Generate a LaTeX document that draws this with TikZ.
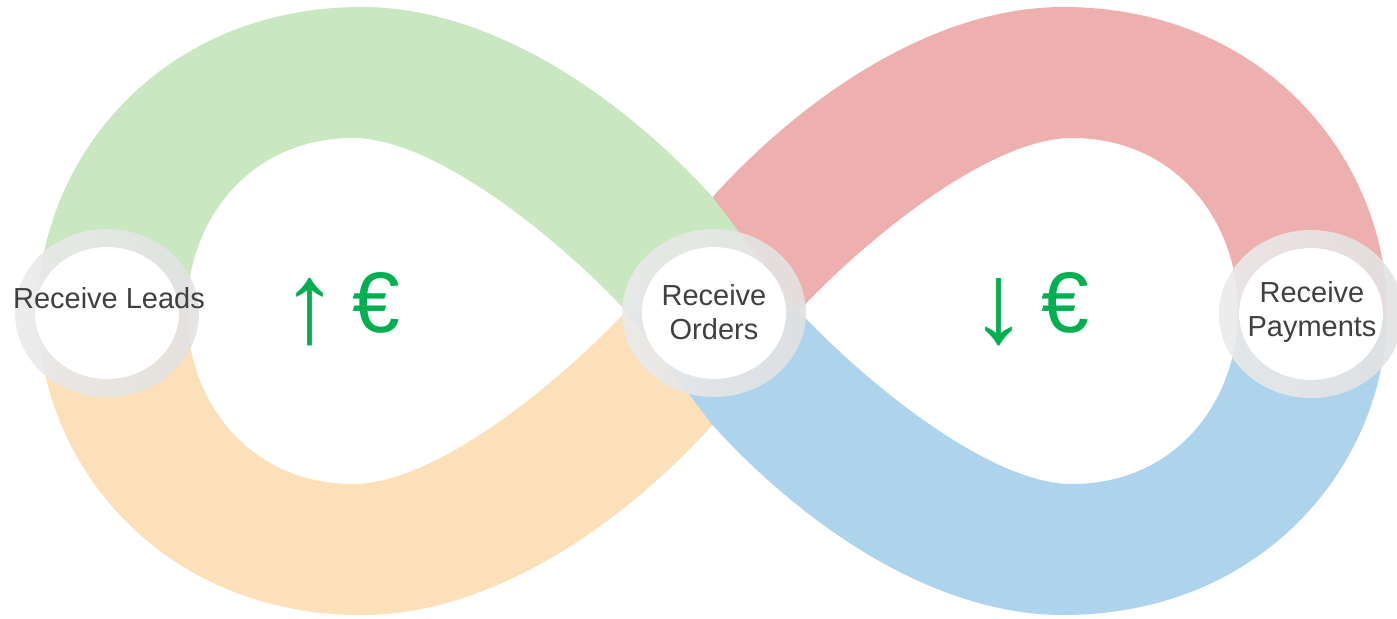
\documentclass[tikz,border=0pt]{standalone}
\usepackage{fontspec}
\setmainfont{Liberation Sans}
\usetikzlibrary{positioning, calc}

\definecolor{leadgreen}{RGB}{201,231,192}
\definecolor{leadorange}{RGB}{251,224,186}
\definecolor{orderred}{RGB}{238,175,175}
\definecolor{payblue}{RGB}{174,211,236}
\definecolor{ringgray}{RGB}{196,196,196}
\definecolor{eurogreen}{RGB}{0,176,80}
\definecolor{labelgray}{RGB}{64,64,64}

% one quarter of the loop (upper left), the others are mirrored copies
\newcommand{\bandpath}{%
  (-674.5,0) .. controls (-674.5,151) and (-552.5,304) .. (-350.5,304)
  .. controls (-222.5,304) and (-92.5,216) .. (0,114)
  -- (86.5,0) -- (-86.5,0)
  .. controls (-142.5,61) and (-272.5,173) .. (-359.5,173)
  .. controls (-462.5,173) and (-525.5,91) .. (-525.5,0) -- cycle}

% grey ring with white centre
\newcommand{\stepring}[1]{%
  \shade[left color=ringgray!35, middle color=ringgray, right color=ringgray!50,
    fill opacity=0.9, even odd rule]
    (#1) ellipse [x radius=92, y radius=84] (#1) ellipse [x radius=72, y radius=66];
  \fill[white] (#1) ellipse [x radius=72, y radius=66];}

\newcommand{\bigarrow}[1]{{\fontsize{57}{60}\selectfont\raisebox{-5pt}{#1}}\kern-5pt\relax}

\tikzset{
  steplabel/.style={text=labelgray, align=center, inner sep=0pt,
    font=\fontsize{14.5}{17}\selectfont},
  eurolabel/.style={text=eurogreen, anchor=base, inner sep=0pt,
    font=\fontsize{43}{50}\selectfont}
}

\begin{document}
\begin{tikzpicture}[x=0.5pt, y=0.5pt]
        \useasboundingbox (-712.5,-307) rectangle (684.5,311);

        % bands: red and orange below, green and blue on top
        \fill[orderred, xscale=-1] \bandpath;
        \fill[leadorange, yscale=-1] \bandpath;
        \fill[leadgreen] \bandpath;
        \fill[payblue, rotate=180] \bandpath;

        \coordinate (leads) at (-605.5,-2);
        \coordinate (orders) at (1.5,-2);
        \coordinate (payments) at (598.5,-3);

        %rings
        \stepring{leads}
        \stepring{orders}
        \stepring{payments}

        % labels
        \node[steplabel] (leadslabel) at ($(leads)+(2,15)$) {Receive Leads};
        \node[steplabel] (orderslabel) at ($(orders)+(0,1)$) {Receive\\Orders};
        \node[steplabel] (paymentslabel) at ($(payments)+(1,2)$) {Receive\\Payments};

        \node[eurolabel] (moneyin) at (-371.5,-21) {\bigarrow{↑} €};
        \node[eurolabel] (moneyout) at (317,-21) {\bigarrow{↓} €};
    \end{tikzpicture}
\end{document}
